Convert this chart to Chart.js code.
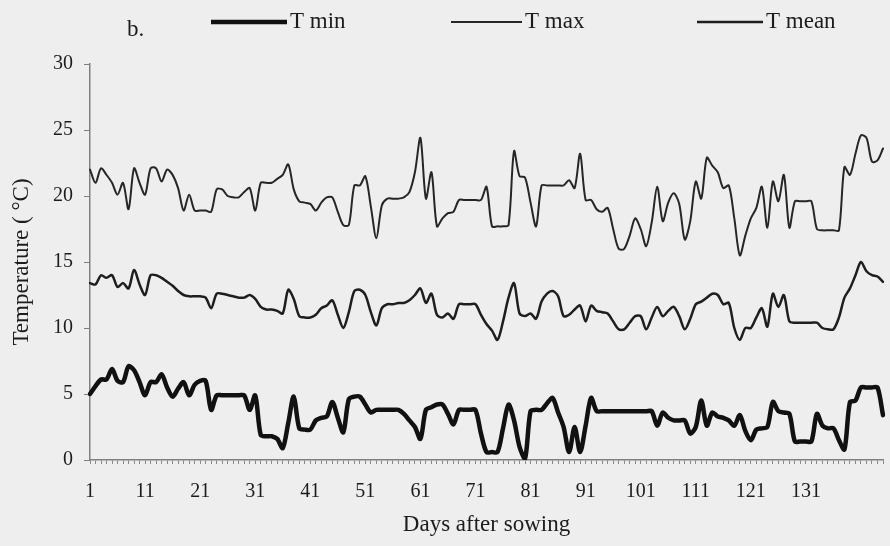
<!DOCTYPE html>
<html>
<head>
<meta charset="utf-8">
<script src="https://cdn.jsdelivr.net/npm/chart.js@4/dist/chart.umd.min.js"></script>
<style>
  html, body { margin: 0; padding: 0; background: #eeeeee; }
  canvas { display: block; }
</style>
</head>
<body>
<canvas id="chart" width="890" height="546"></canvas>
<script>
// Daily temperatures (°C) from day 1 to day 145 after sowing
const days = Array.from({ length: 145 }, (_, i) => i + 1);
const labeledDays = [1, 11, 21, 31, 41, 51, 61, 71, 81, 91, 101, 111, 121, 131];
const yTicks = [0, 5, 10, 15, 20, 25, 30];

const tMin = [
  5.0, 5.6, 6.1, 6.1, 6.9, 6.0, 5.9, 7.1, 6.8, 5.9,
  4.9, 5.9, 5.9, 6.5, 5.5, 4.8, 5.4, 5.9, 4.9, 5.7,
  6.0, 6.0, 3.8, 4.9, 4.9, 4.9, 4.9, 4.9, 4.9, 3.8,
  4.9, 1.9, 1.8, 1.8, 1.6, 0.9, 2.8, 4.8, 2.4, 2.3,
  2.3, 3.0, 3.2, 3.3, 4.4, 3.2, 2.1, 4.6, 4.8, 4.8,
  4.2, 3.6, 3.8, 3.8, 3.8, 3.8, 3.8, 3.5, 3.0, 2.5,
  1.6, 3.8, 4.0, 4.2, 4.2, 3.5, 2.7, 3.8, 3.8, 3.8,
  3.8, 2.0, 0.6, 0.6, 0.6, 2.4, 4.2, 3.0, 1.0, 0.1,
  3.7, 3.8, 3.8, 4.3, 4.7, 3.6, 2.5, 0.6, 2.5, 0.6,
  2.6, 4.7, 3.7, 3.7, 3.7, 3.7, 3.7, 3.7, 3.7, 3.7,
  3.7, 3.7, 3.7, 2.6, 3.6, 3.2, 3.0, 3.0, 3.0, 2.0,
  2.5, 4.5, 2.6, 3.6, 3.3, 3.2, 3.0, 2.6, 3.4, 2.2,
  1.5, 2.3, 2.4, 2.5, 4.4, 3.7, 3.6, 3.5, 1.4, 1.4,
  1.4, 1.4, 3.5, 2.6, 2.4, 2.4, 1.5, 0.8, 4.4, 4.5,
  5.5, 5.5, 5.5, 5.5, 3.4
];

const tMax = [
  22.0, 21.0, 22.1, 21.6, 21.0, 20.1, 21.0, 19.0, 22.1, 21.0,
  20.1, 22.1, 22.1, 21.1, 22.0, 21.6, 20.6, 18.9, 20.1, 18.9,
  18.9, 18.9, 18.8, 20.5, 20.5, 20.0, 19.9, 19.9, 20.3, 20.6,
  18.9, 21.0, 21.0, 21.0, 21.3, 21.6, 22.4, 20.5, 19.6, 19.5,
  19.4, 18.9, 19.5, 19.9, 19.9, 18.8, 17.8, 17.8, 20.8, 20.8,
  21.5, 19.2, 16.8, 19.3, 19.8, 19.8, 19.8, 19.9, 20.3, 21.8,
  24.4, 19.8, 21.8, 17.7, 18.3, 18.7, 18.8, 19.7, 19.7, 19.7,
  19.7, 19.7, 20.7, 17.7, 17.7, 17.7, 17.8, 23.4, 21.5, 21.4,
  19.5, 17.7, 20.8, 20.8, 20.8, 20.8, 20.8, 21.2, 20.6, 23.2,
  19.7, 19.7, 19.0, 18.8, 19.1, 17.5, 16.0, 16.0, 17.0, 18.3,
  17.5, 16.2, 18.0, 20.7, 18.1, 19.5, 20.2, 19.4, 16.7, 18.1,
  21.1, 19.8, 22.9, 22.3, 21.8, 20.6, 20.8, 18.3, 15.5, 17.0,
  18.3, 19.1, 20.7, 17.6, 21.1, 19.6, 21.6, 17.6, 19.6, 19.6,
  19.6, 19.6, 17.5, 17.4, 17.4, 17.4, 17.4, 22.2, 21.6, 23.2,
  24.6, 24.4, 22.6, 22.7, 23.6
];

const tMean = [
  13.4, 13.3, 14.0, 13.8, 14.0, 13.1, 13.4, 13.0, 14.4, 13.3,
  12.5, 14.0, 14.0, 13.8, 13.5, 13.2, 12.8, 12.5, 12.4, 12.4,
  12.4, 12.3, 11.5, 12.6, 12.6, 12.5, 12.4, 12.3, 12.3, 12.5,
  12.2, 11.6, 11.4, 11.4, 11.3, 11.1, 12.9, 12.2, 10.9, 10.8,
  10.8, 11.0, 11.5, 11.7, 12.1, 11.0, 10.0, 11.2, 12.8, 12.9,
  12.5, 11.2, 10.2, 11.5, 11.8, 11.8, 11.9, 11.9, 12.1, 12.5,
  13.0, 11.9, 12.6, 11.0, 10.8, 11.1, 10.7, 11.8, 11.8, 11.8,
  11.8, 11.0, 10.3, 9.8, 9.1, 10.5, 12.3, 13.4, 11.1, 10.9,
  11.1, 10.7, 12.0, 12.6, 12.8, 12.4, 10.9, 11.0, 11.4, 11.7,
  10.5, 11.7, 11.3, 11.2, 11.1, 10.5, 9.9, 9.9, 10.4, 10.9,
  10.9, 9.9, 10.8, 11.6, 10.9, 11.3, 11.6, 10.9, 9.9, 10.7,
  11.8, 12.0, 12.3, 12.6, 12.5, 11.8, 11.9, 10.0, 9.1, 10.0,
  10.0, 10.8, 11.5, 10.1, 12.6, 11.6, 12.5, 10.5, 10.4, 10.4,
  10.4, 10.4, 10.4, 10.0, 9.9, 9.9, 10.8, 12.3, 13.0, 14.0,
  15.0, 14.3, 14.0, 13.9, 13.5
];

const panelTag = 'b.';
const serif = '"Liberation Serif", "DejaVu Serif", serif';
const ink = '#1c1c1c';

// Page background behind the plot
const backgroundPlugin = {
  id: 'paperBackground',
  beforeDraw(chart) {
    const { ctx, width, height } = chart;
    ctx.save();
    ctx.fillStyle = '#eeeeee';
    ctx.fillRect(0, 0, width, height);
    ctx.restore();
  }
};

// Panel tag and a legend row with long line samples across the top
const topLegendPlugin = {
  id: 'topLegend',
  afterDraw(chart, args, opts) {
    const { ctx } = chart;
    ctx.save();
    ctx.font = '23px ' + serif;
    ctx.fillStyle = ink;
    ctx.textBaseline = 'middle';
    ctx.textAlign = 'left';
    ctx.fillText(panelTag, opts.tag.x, opts.tag.y);
    chart.data.datasets.forEach((ds, i) => {
      const slot = opts.slots[i];
      ctx.strokeStyle = ds.borderColor;
      ctx.lineWidth = ds.borderWidth;
      ctx.lineCap = 'butt';
      ctx.beginPath();
      ctx.moveTo(slot.x0, opts.y);
      ctx.lineTo(slot.x1, opts.y);
      ctx.stroke();
      ctx.fillStyle = ink;
      ctx.fillText(ds.label, slot.x1 + 3, opts.y);
    });
    ctx.restore();
  }
};

const lineStyle = {
  pointRadius: 0,
  pointHoverRadius: 0,
  fill: false,
  tension: 0.3,
  borderJoinStyle: 'round',
  borderCapStyle: 'round'
};

new Chart(document.getElementById('chart'), {
  type: 'line',
  data: {
    labels: days,
    datasets: [
      { label: 'T min', data: tMin, borderColor: '#111111', borderWidth: 4.5, ...lineStyle },
      { label: 'T max', data: tMax, borderColor: '#262626', borderWidth: 2, ...lineStyle },
      { label: 'T mean', data: tMean, borderColor: '#1e1e1e', borderWidth: 2.5, ...lineStyle }
    ]
  },
  options: {
    responsive: false,
    animation: false,
    devicePixelRatio: 1,
    layout: { padding: { top: 64, right: 7, bottom: 3, left: 0 } },
    plugins: {
      legend: { display: false },
      tooltip: { enabled: false },
      topLegend: {
        y: 22,
        tag: { x: 127, y: 30 },
        slots: [
          { x0: 211, x1: 287 },
          { x0: 451, x1: 522 },
          { x0: 697, x1: 763 }
        ]
      }
    },
    scales: {
      x: {
        type: 'category',
        offset: false,
        afterFit(scale) {
          scale.height = 83;
          scale.paddingLeft = 0;
          scale.paddingRight = 0;
        },
        border: { display: true, color: '#808080', width: 1.5 },
        grid: {
          display: true,
          drawOnChartArea: false,
          drawTicks: true,
          tickLength: 4,
          color: '#8a8a8a',
          lineWidth: 1
        },
        ticks: {
          autoSkip: false,
          maxRotation: 0,
          minRotation: 0,
          padding: 16,
          color: ink,
          font: { family: serif, size: 20 },
          callback(value, index) {
            const d = days[index];
            return labeledDays.includes(d) ? String(d) : '';
          }
        },
        title: {
          display: true,
          text: 'Days after sowing',
          color: ink,
          font: { family: serif, size: 23 },
          padding: { top: 4, bottom: 4 }
        }
      },
      y: {
        min: 0,
        max: 30,
        afterFit(scale) { scale.width = 90; },
        afterBuildTicks(scale) { scale.ticks = yTicks.map(v => ({ value: v })); },
        border: { display: true, color: '#808080', width: 1.5 },
        grid: {
          display: true,
          drawOnChartArea: false,
          drawTicks: true,
          tickLength: 6,
          color: '#808080',
          lineWidth: 1
        },
        ticks: {
          padding: 11,
          color: ink,
          font: { family: serif, size: 20 }
        },
        title: {
          display: true,
          text: 'Temperature ( °C)',
          color: ink,
          font: { family: serif, size: 23 },
          padding: { top: 8, bottom: 4 }
        }
      }
    }
  },
  plugins: [backgroundPlugin, topLegendPlugin]
});
</script>
</body>
</html>
